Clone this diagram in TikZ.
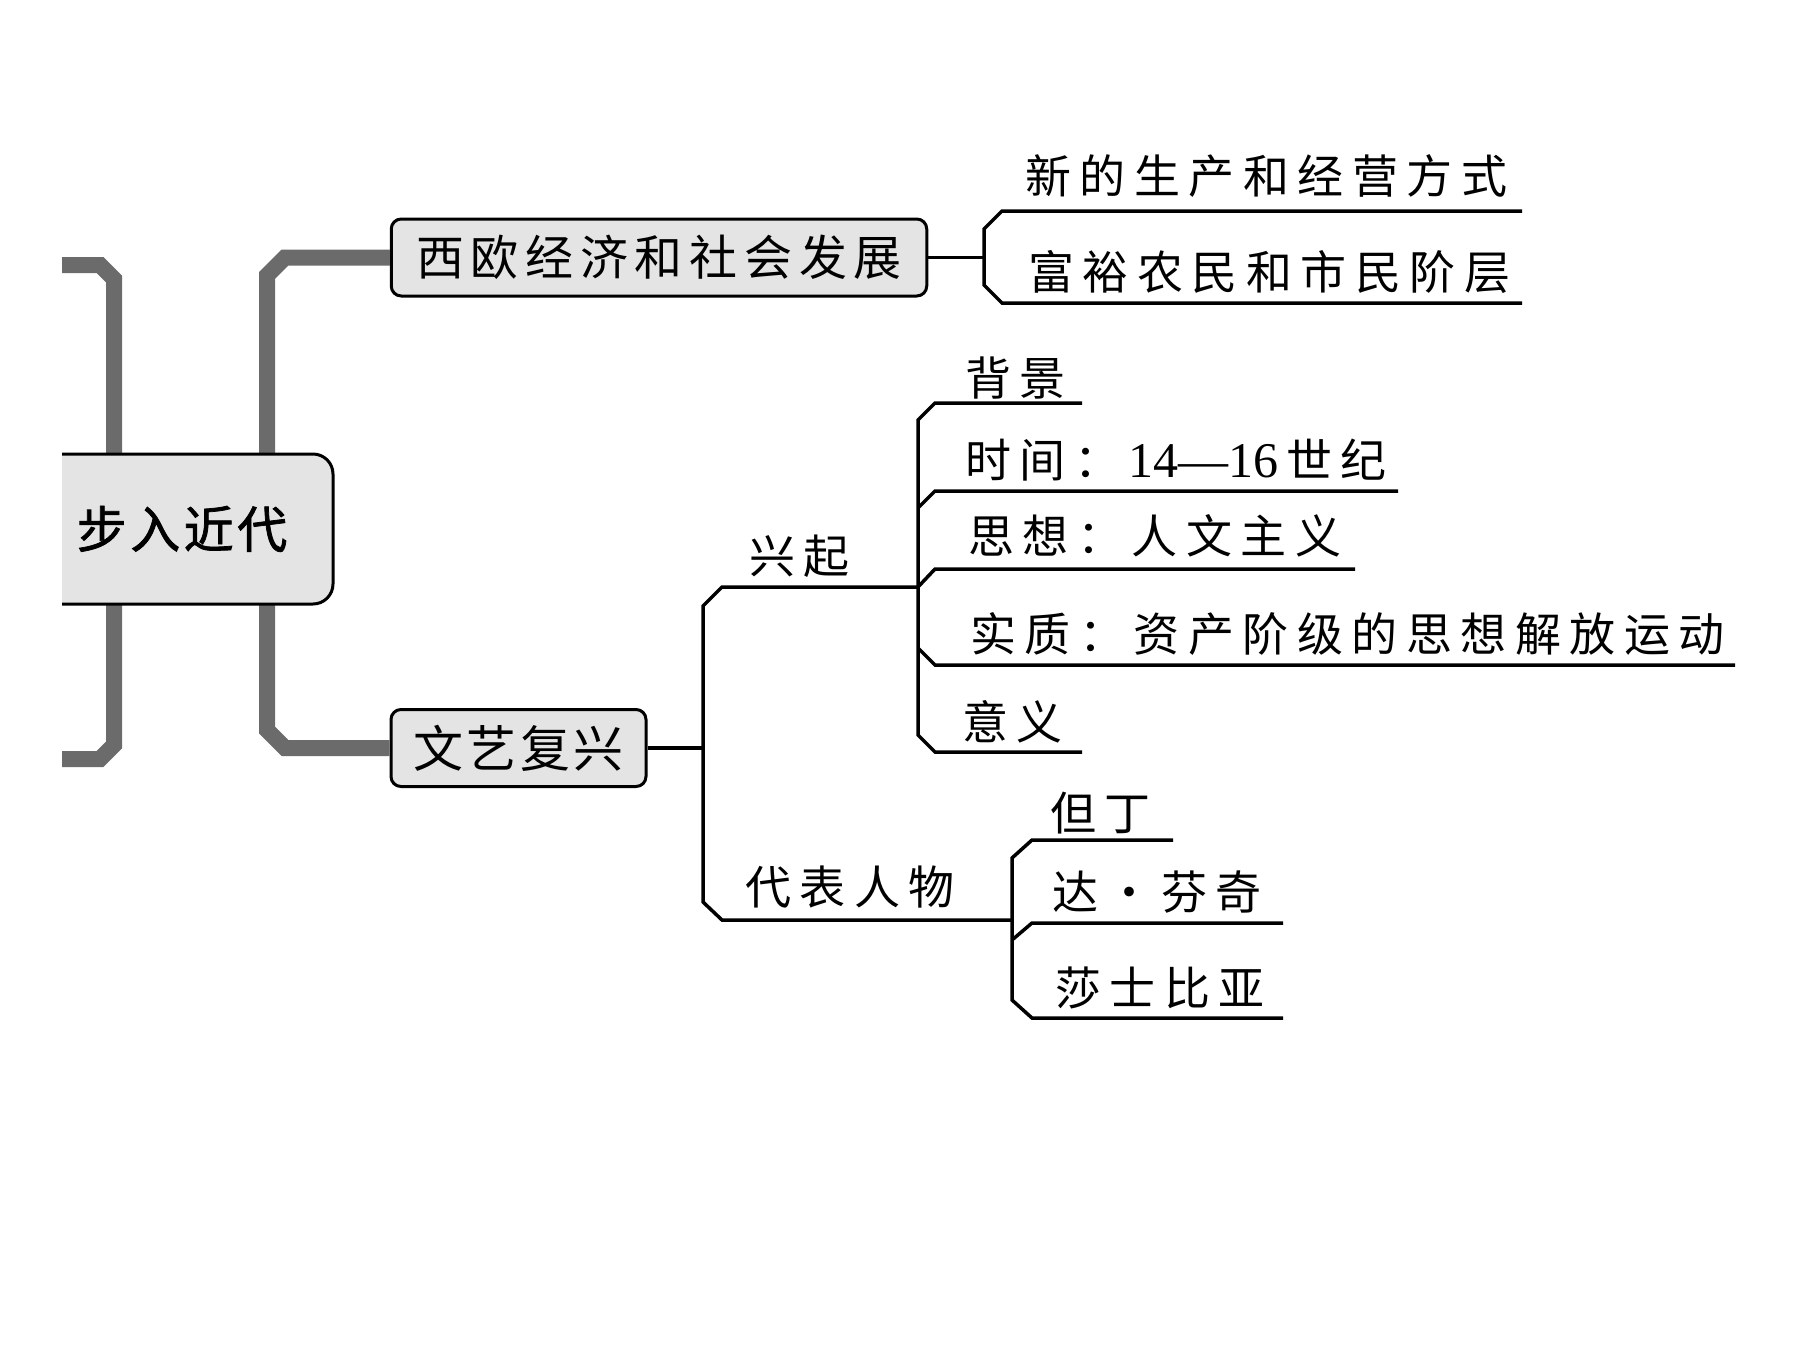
\documentclass[tikz,border=0pt]{standalone}
\usepackage{fontspec}
\setmainfont{Liberation Serif}
\newfontfamily\cjkleaf[LetterSpace=18.5]{Noto Sans CJK SC}
\newfontfamily\cjkmid[LetterSpace=14]{Noto Sans CJK SC}
\newfontfamily\cjkwen[LetterSpace=7]{Noto Sans CJK SC}
\newfontfamily\cjkroot[LetterSpace=7,FakeBold=1.5]{Noto Sans CJK SC}
\newfontfamily\latnum{Liberation Serif}
\definecolor{gline}{HTML}{6B6B6B}
\definecolor{boxfill}{HTML}{E4E4E4}
\tikzset{
  thinline/.style={line width=1.75pt, draw=black, line join=miter},
  grayline/.style={line width=8pt, draw=gline, line join=miter},
  leaftext/.style={anchor=west, inner sep=0pt, font=\cjkleaf\fontsize{23}{23}\selectfont},
  midbox/.style={draw=black, line width=1.5pt, fill=boxfill, rounded corners=5pt,
    inner sep=0pt, minimum height=38.5pt},
  rootbox/.style={draw=black, line width=1.5pt, fill=boxfill, rounded corners=10pt,
    inner sep=0pt, minimum width=151pt, minimum height=75pt,
    font=\cjkroot\fontsize{25}{25}\selectfont}
}
\begin{document}
\begin{tikzpicture}[x=0.5pt,y=-0.5pt]
\fill[white] (0,0) rectangle (1800,1350);
\useasboundingbox (0,0) rectangle (1800,1350);

% second-level boxes
\node[midbox, minimum width=267.75pt, font=\cjkmid\fontsize{24}{24}\selectfont] (b1) at (659,257.5) {西欧经济和社会发展};
\node[midbox, minimum width=127.5pt, font=\cjkwen\fontsize{25}{25}\selectfont] (b2) at (518.5,748) {文艺复兴};

% gray brackets and root (clipped at left edge)
\begin{scope}
\clip (62,0) rectangle (1800,1350);
\draw[grayline] (30,265) -- (100,265) -- (114,279) -- (114,745) -- (100,759) -- (30,759);
\draw[grayline] (b1.west) -- (285,257.5) -- (267,275.5) -- (267,730) -- (285,748) -- (b2.west);
\node[rootbox] (root) at (182,529) {步入近代};
\end{scope}

% branch 1
\coordinate (s1) at (984,257.5);
\draw[thinline] (b1.east) -- (s1);
\draw[thinline] (1522,211) -- (1002,211) -- (984,229) -- (984,285) -- (1002,303) -- (1522,303);
\node[leaftext] (l1) at (1025,176) {新的生产和经营方式};
\node[leaftext] (l2) at (1028,272) {富裕农民和市民阶层};

% branch 2
\coordinate (s2) at (703,748);
\draw[thinline] (b2.east) -- (s2);
\draw[thinline] (918,587) -- (722,587) -- (703,606) -- (703,902) -- (722,920) -- (1012,920);
\node[leaftext] (xq) at (749,556) {兴起};
\node[leaftext] (db) at (745,887) {代表人物};

% 兴起 children
\draw[thinline] (1082,403) -- (935,403) -- (918,420) -- (918,735) -- (935,752) -- (1082,752);
\draw[thinline] (918,508) -- (935,491) -- (1398,491);
\draw[thinline] (918,587) -- (935,569) -- (1355,569);
\draw[thinline] (918,648) -- (935,665) -- (1735,665);
\node[leaftext] (bj) at (965,378) {背景};
\node[leaftext] (sj) at (965,460) {时间：\hspace{4pt}{\latnum\fontsize{25}{25}\selectfont 14—16}\hspace{4pt}世纪};
\node[leaftext] (sx) at (968,536) {思想：人文主义};
\node[leaftext] (sz) at (970,634) {实质：资产阶级的思想解放运动};
\node[leaftext] (yy) at (962,722) {意义};

% 代表人物 children
\draw[thinline] (1173,840) -- (1032,840) -- (1012,858) -- (1012,1000) -- (1032,1018) -- (1283,1018);
\draw[thinline] (1012,940) -- (1032,923) -- (1283,923);
\node[leaftext] (dd) at (1050,813) {但丁};
\node[leaftext] (dv) at (1052,892) {达·芬奇};
\node[leaftext] (ss) at (1055,988) {莎士比亚};
\end{tikzpicture}
\end{document}
